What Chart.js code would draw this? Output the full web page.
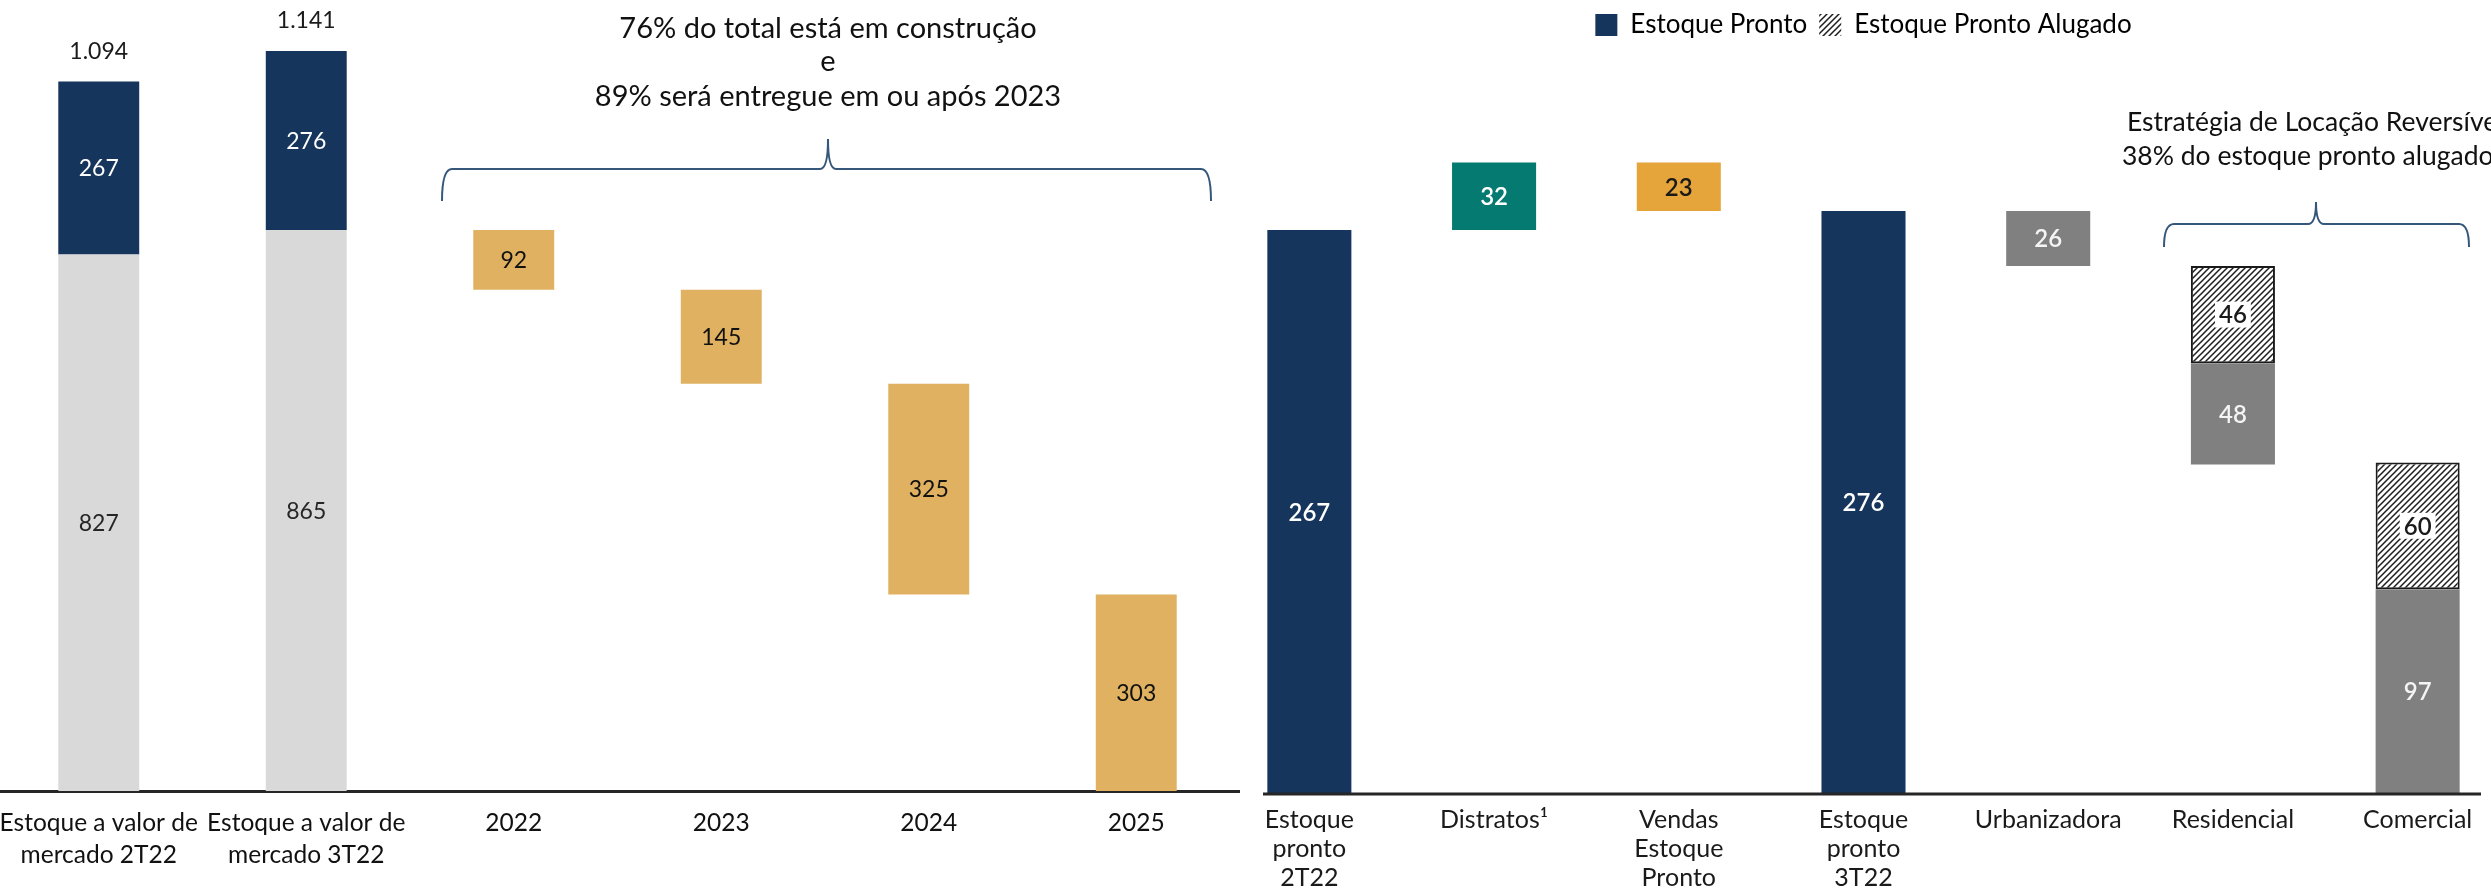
<!DOCTYPE html>
<html>
<head>
<meta charset="utf-8">
<script src="https://cdn.jsdelivr.net/npm/chart.js@4.4.1/dist/chart.umd.min.js"></script>
<style>
  html, body { margin: 0; padding: 0; background: #fff; }
  body { width: 2491px; height: 888px; overflow: hidden; position: relative; }
  canvas { position: absolute; top: 0; }
  #left { left: -5px; }
  #right { left: 1217px; }
</style>
</head>
<body>
<canvas id="left" width="1245" height="888"></canvas>
<canvas id="right" width="1293" height="888"></canvas>
<script>
'use strict'

/* left chart: market value stock and delivery schedule */
var stockLabels = [['Estoque a valor de', 'mercado 2T22'], ['Estoque a valor de', 'mercado 3T22']];
var stockConstruction = [827, 865];
var stockReady = [267, 276];
var deliveryYears = ['2022', '2023', '2024', '2025'];
var deliveryValues = [92, 145, 325, 303];

/* right chart: ready stock bridge */
var flowLabels = [['Estoque', 'pronto', '2T22'], 'Distratos¹', ['Vendas', 'Estoque', 'Pronto'],
                  ['Estoque', 'pronto', '3T22'], 'Urbanizadora', 'Residencial', 'Comercial'];
var readyStart = 267;
var cancellations = 32;
var readySales = 23;
var readyEnd = 276;
var segmentOwned = [26, 48, 97];   /* Urbanizadora, Residencial, Comercial */
var segmentLeased = [0, 46, 60];

var NAVY = '#15355c', LIGHT = '#d9d9d9', GOLD = '#dfb160', TEAL = '#047a70',
    ORANGE = '#e6a53a', GREY = '#808080';
var LATO = "Lato, 'Liberation Sans', sans-serif";

function thousands(v) {
    return String(v).replace(/\B(?=(\d{3})+(?!\d))/g, '.');
}

function hatchPattern(ctx) {
    var c = document.createElement('canvas');
    c.width = 6; c.height = 6;
    var g = c.getContext('2d');
    g.fillStyle = '#fff';
    g.fillRect(0, 0, 6, 6);
    g.strokeStyle = '#1e1e1e';
    g.lineWidth = 1.5;
    g.beginPath();
    g.moveTo(-1, 7); g.lineTo(7, -1);
    g.moveTo(-1, 1); g.lineTo(1, -1);
    g.moveTo(5, 7); g.lineTo(7, 5);
    g.stroke();
    return ctx.createPattern(c, 'repeat');
}

function drawBrace(ctx, x1, x2, xm, yTip, yMid, yEnd, color) {
    ctx.save();
    ctx.strokeStyle = color;
    ctx.lineWidth = 2;
    ctx.beginPath();
    ctx.moveTo(x1, yEnd);
    ctx.quadraticCurveTo(x1, yMid, x1 + 10, yMid);
    ctx.lineTo(xm - 8, yMid);
    ctx.quadraticCurveTo(xm, yMid, xm, yTip);
    ctx.quadraticCurveTo(xm, yMid, xm + 8, yMid);
    ctx.lineTo(x2 - 10, yMid);
    ctx.quadraticCurveTo(x2, yMid, x2, yEnd);
    ctx.stroke();
    ctx.restore();
}

/* draws the value inside each bar, plus totals on top when asked */
var barLabels = {
    id: 'barLabels',
    afterDatasetsDraw: function(chart) {
        var ctx = chart.ctx;
        chart.data.datasets.forEach(function(ds, i) {
            var meta = chart.getDatasetMeta(i);
            meta.data.forEach(function(bar, j) {
                var raw = ds.data[j];
                if (raw == null) return;
                var v = raw[1] - raw[0];
                var y = (bar.y + bar.base) / 2;
                ctx.save();
                ctx.font = ds.valueFont;
                ctx.textAlign = 'center';
                ctx.textBaseline = 'middle';
                var txt = String(v);
                if (ds.valueBox) {
                    var w = ctx.measureText(txt).width;
                    ctx.fillStyle = '#fff';
                    ctx.fillRect(bar.x - w / 2 - 4, y - 13, w + 8, 26);
                }
                ctx.fillStyle = ds.valueColor;
                ctx.fillText(txt, bar.x, y + 1);
                if (ds.showTotal) {
                    ctx.fillStyle = '#1a1a1a';
                    ctx.fillText(thousands(raw[1]), bar.x, bar.y - 30);
                }
                ctx.restore();
            });
        });
    }
};

function noSidePadding(s) {
    s.paddingLeft = 0;
    s.paddingRight = 0;
}

/* ---------- left chart ---------- */
var greyData = [], navyData = [], goldData = [];
stockConstruction.forEach(function(v, i) {
    greyData.push([0, v]);
    navyData.push([v, v + stockReady[i]]);
    goldData.push(null);
});
var level = stockConstruction[stockConstruction.length - 1];
deliveryValues.forEach(function(v) {
    greyData.push(null);
    navyData.push(null);
    goldData.push([level - v, level]);
    level -= v;
});

var leftNotes = {
    id: 'leftNotes',
    afterDraw: function(chart) {
        var ctx = chart.ctx;
        ctx.save();
        ctx.fillStyle = '#111';
        ctx.font = '29px ' + LATO;
        ctx.textAlign = 'center';
        ctx.textBaseline = 'middle';
        ctx.fillText('76% do total está em construção', 833, 29);
        ctx.fillText('e', 833, 62);
        ctx.fillText('89% será entregue em ou após 2023', 833, 97);
        ctx.restore();
        drawBrace(ctx, 447, 1216, 833, 139, 169, 201, '#35577a');
    }
};

var leftChart = new Chart(document.getElementById('left'), {
    type: 'bar',
    data: {
        labels: stockLabels.concat(deliveryYears),
        datasets: [
            { label: 'Em construção', data: greyData, backgroundColor: LIGHT,
              valueColor: '#262626', valueFont: '23px ' + LATO },
            { label: 'Estoque Pronto', data: navyData, backgroundColor: NAVY,
              valueColor: '#fff', valueFont: '23px ' + LATO, showTotal: true },
            { label: 'Entrega', data: goldData, backgroundColor: GOLD,
              valueColor: '#111', valueFont: '23px ' + LATO }
        ]
    },
    options: {
        responsive: false,
        animation: false,
        devicePixelRatio: 1,
        layout: { padding: 0 },
        datasets: { bar: { grouped: false, categoryPercentage: 1, barPercentage: 0.39 } },
        plugins: { legend: { display: false }, tooltip: { enabled: false } },
        scales: {
            x: {
                z: 1,
                grid: { display: false, drawTicks: false },
                border: { display: true, color: '#262626', width: 3 },
                ticks: { color: '#111', padding: 16, autoSkip: false, maxRotation: 0,
                         font: { family: LATO, size: 24.5, lineHeight: 1.3 } },
                afterFit: function(s) { s.height = 97; noSidePadding(s); }
            },
            y: { display: false, min: 0, max: 1220 }
        }
    },
    plugins: [barLabels, leftNotes]
});

/* ---------- right chart ---------- */
var rightCtx = document.getElementById('right').getContext('2d');
var barHatch = hatchPattern(rightCtx);
var n = flowLabels.length;
function empty() { var a = []; for (var i = 0; i < n; i++) a.push(null); return a; }

var readyData = empty(), cancelData = empty(), salesData = empty(), ownedData = empty(), leasedData = empty();
readyData[0] = [0, readyStart];
cancelData[1] = [readyStart, readyStart + cancellations];
salesData[2] = [readyStart + cancellations - readySales, readyStart + cancellations];
readyData[3] = [0, readyEnd];
var run = readyEnd;
segmentOwned.forEach(function(own, i) {
    var total = own + segmentLeased[i];
    var base = Math.max(0, run - total);
    ownedData[4 + i] = [base, base + own];
    if (segmentLeased[i]) leasedData[4 + i] = [base + own, base + total];
    run = base;
});

var rightNotes = {
    id: 'rightNotes',
    afterDatasetsDraw: function(chart) {
        var ctx = chart.ctx;
        var y = chart.chartArea.bottom;
        ctx.save();
        ctx.strokeStyle = '#262626';
        ctx.lineWidth = 3;
        ctx.beginPath();
        ctx.moveTo(46, y);
        ctx.lineTo(1264, y);
        ctx.stroke();
        ctx.restore();
    },
    afterDraw: function(chart) {
        var ctx = chart.ctx;
        ctx.save();
        ctx.fillStyle = '#111';
        ctx.font = '26.5px ' + LATO;
        ctx.textAlign = 'left';
        ctx.textBaseline = 'middle';
        ctx.fillText('Estratégia de Locação Reversível', 910, 122);
        ctx.fillText('38% do estoque pronto alugado', 905, 156);
        ctx.restore();
        drawBrace(ctx, 947, 1252, 1099, 202, 224, 247, '#35577a');
    }
};

var rightChart = new Chart(rightCtx, {
    type: 'bar',
    data: {
        labels: flowLabels,
        datasets: [
            { label: 'Estoque Pronto', data: readyData, backgroundColor: NAVY,
              valueColor: '#fff', valueFont: '600 24px ' + LATO },
            { label: 'Distratos', data: cancelData, backgroundColor: TEAL,
              valueColor: '#fff', valueFont: '600 24px ' + LATO },
            { label: 'Vendas Estoque Pronto', data: salesData, backgroundColor: ORANGE,
              valueColor: '#1a1a1a', valueFont: '600 24px ' + LATO },
            { label: 'Próprio', data: ownedData, backgroundColor: GREY,
              valueColor: '#f4f4f4', valueFont: '600 24px ' + LATO },
            { label: 'Estoque Pronto Alugado', data: leasedData, backgroundColor: barHatch,
              borderColor: '#1a1a1a', borderWidth: 2, borderSkipped: false,
              valueColor: '#1a1a1a', valueFont: '600 24px ' + LATO, valueBox: true }
        ]
    },
    options: {
        responsive: false,
        animation: false,
        devicePixelRatio: 1,
        layout: { padding: 0 },
        datasets: { bar: { grouped: false, categoryPercentage: 1, barPercentage: 0.455 } },
        plugins: {
            tooltip: { enabled: false },
            legend: {
                display: true,
                position: 'top',
                onClick: null,
                labels: {
                    boxWidth: 22, boxHeight: 22, padding: 12, color: '#1a1a1a',
                    font: { family: LATO, size: 26 },
                    generateLabels: function() {
                        return [
                            { text: 'Estoque Pronto', fillStyle: NAVY, strokeStyle: NAVY, lineWidth: 0, hidden: false, datasetIndex: 0 },
                            { text: 'Estoque Pronto Alugado', fillStyle: barHatch, strokeStyle: '#fff', lineWidth: 0, hidden: false, datasetIndex: 4 }
                        ];
                    }
                }
            }
        },
        scales: {
            x: {
                grid: { display: false, drawTicks: false },
                border: { display: false },
                ticks: { color: '#1a1a1a', padding: 12, autoSkip: false, maxRotation: 0,
                         font: { family: LATO, size: 25, lineHeight: 1.15 } },
                afterFit: function(s) { s.height = 94; noSidePadding(s); }
            },
            y: { display: false, min: 0, max: 350 }
        }
    },
    plugins: [barLabels, rightNotes]
});

/* match the vertical scale of the picture: pixels per unit */
function fitScale(chart, pxPerUnit) {
    var a = chart.chartArea;
    chart.options.scales.y.max = (a.bottom - a.top) / pxPerUnit;
    chart.update('none');
}
fitScale(leftChart, 0.6486);
fitScale(rightChart, 2.112);
</script>
</body>
</html>
